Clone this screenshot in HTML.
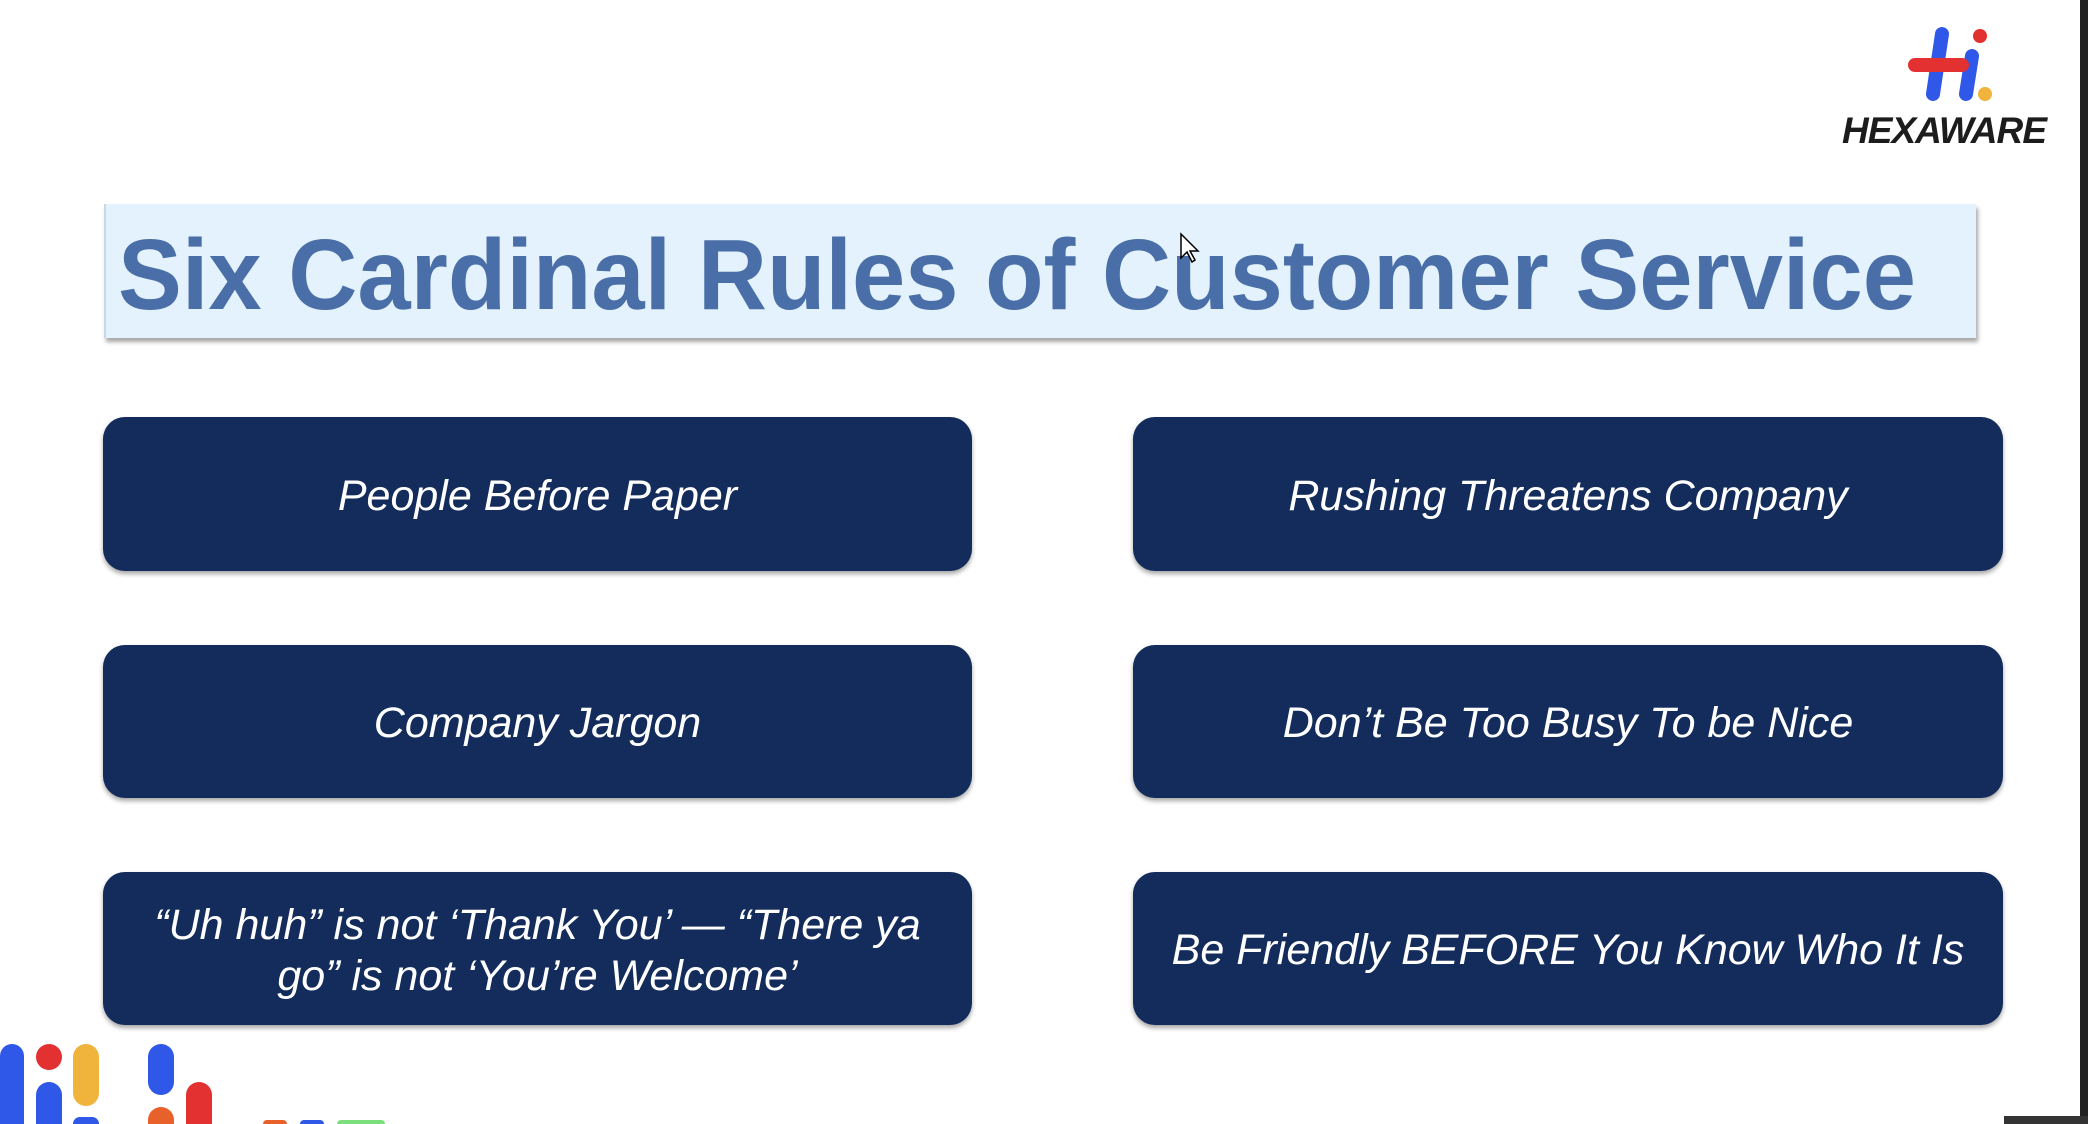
<!DOCTYPE html>
<html><head><meta charset="utf-8"><style>
html,body{margin:0;padding:0;background:#fff;width:2088px;height:1124px;overflow:hidden;}
body{position:relative;font-family:"Liberation Sans",Arial,sans-serif;}
.box{position:absolute;background:#132c5b;border-radius:22px;box-shadow:0 3px 5px rgba(0,0,0,.35);color:#fff;font-style:italic;font-size:43px;display:flex;align-items:center;justify-content:center;text-align:center;line-height:51px;padding-top:4px;box-sizing:border-box;}
.p{position:absolute;border-radius:14px 14px 0 0;}
</style></head><body>
<div style="position:absolute;left:2080px;top:0;width:8px;height:1124px;background:#222;"></div>
<div style="position:absolute;left:2004px;top:1116px;width:84px;height:8px;background:#333;"></div>
<svg style="position:absolute;left:1830px;top:20px" width="240" height="135">
<line x1="112" y1="14" x2="103" y2="74" stroke="#2f57e8" stroke-width="14" stroke-linecap="round"/>
<line x1="142" y1="36" x2="136" y2="74" stroke="#2f57e8" stroke-width="14" stroke-linecap="round"/>
<line x1="85" y1="45" x2="132" y2="45" stroke="#e33030" stroke-width="14" stroke-linecap="round"/>
<circle cx="150" cy="16" r="7" fill="#e33030"/><circle cx="155" cy="74" r="7" fill="#f0b43c"/>
<text x="12" y="123" font-family="Liberation Sans" font-weight="bold" font-style="italic" font-size="37" fill="#1c1c1c" textLength="205">HEXAWARE</text>
</svg>
<div style="position:absolute;left:104px;top:204px;width:1870px;height:134px;background:#e3f2fc;box-shadow:2px 4px 4px rgba(0,0,0,.35);border-left:2px solid #c8d8e6;"></div>
<svg style="position:absolute;left:0;top:0" width="2088" height="400">
<text x="118" y="309" font-family="Liberation Sans" font-weight="bold" font-size="100" fill="#4a6fa8" textLength="1798" lengthAdjust="spacingAndGlyphs">Six Cardinal Rules of Customer Service</text>
<path d="M1181 234 l0 24 l6 -6 l5 10 l3 -2 l-5 -9 l8 0 z" fill="#fff" stroke="#000" stroke-width="1.5"/>
</svg>
<div class="box" style="left:103px;top:417px;width:869px;height:154px;">People Before Paper</div>
<div class="box" style="left:1133px;top:417px;width:870px;height:154px;">Rushing Threatens Company</div>
<div class="box" style="left:103px;top:645px;width:869px;height:153px;">Company Jargon</div>
<div class="box" style="left:1133px;top:645px;width:870px;height:153px;">Don’t Be Too Busy To be Nice</div>
<div class="box" style="left:103px;top:872px;width:869px;height:153px;">“Uh huh” is not ‘Thank You’ — “There ya<br>go” is not ‘You’re Welcome’</div>
<div class="box" style="left:1133px;top:872px;width:870px;height:153px;">Be Friendly BEFORE You Know Who It Is</div>
<div>
<div class="p" style="left:0;top:1044px;width:24px;height:80px;background:#2f57e8"></div>
<div class="p" style="left:36px;top:1044px;width:26px;height:26px;border-radius:13px;background:#e33030"></div>
<div class="p" style="left:36px;top:1082px;width:26px;height:42px;background:#2f57e8"></div>
<div class="p" style="left:73px;top:1044px;width:26px;height:62px;border-radius:13px;background:#f0b43c"></div>
<div class="p" style="left:73px;top:1117px;width:26px;height:7px;background:#2f57e8"></div>
<div class="p" style="left:148px;top:1044px;width:26px;height:51px;border-radius:13px;background:#2f57e8"></div>
<div class="p" style="left:148px;top:1107px;width:26px;height:17px;background:#e8612a"></div>
<div class="p" style="left:186px;top:1082px;width:26px;height:42px;background:#e33030"></div>
<div class="p" style="left:263px;top:1120px;width:24px;height:4px;background:#e8612a"></div>
<div class="p" style="left:300px;top:1120px;width:24px;height:4px;background:#2f57e8"></div>
<div class="p" style="left:337px;top:1120px;width:48px;height:4px;background:#7be07b"></div>
</div>
</body></html>
